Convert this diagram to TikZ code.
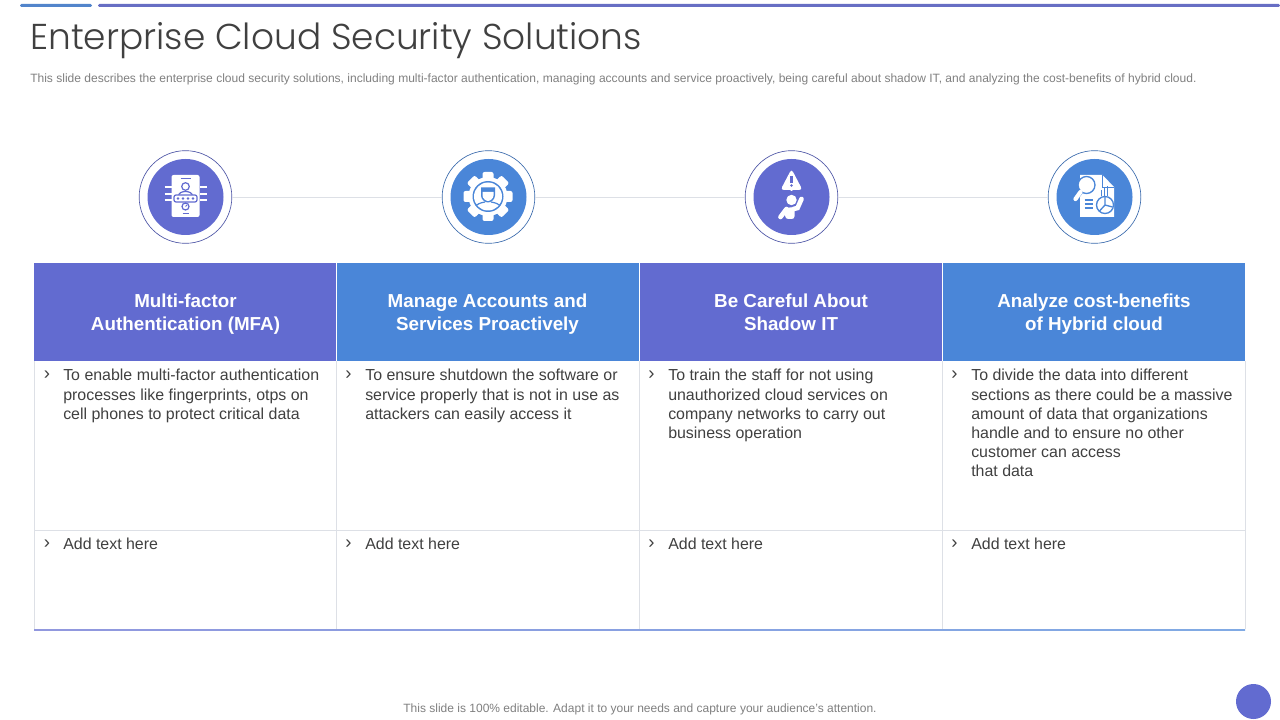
\documentclass[tikz,border=0pt]{standalone}
\usepackage{fontspec}
\setmainfont{Liberation Sans}
\newfontfamily\titlefont[UprightFont={* Light}]{Poppins}
\usepackage{xcolor}
\usetikzlibrary{positioning}
\definecolor{violetfill}{HTML}{626BD0}
\definecolor{bluefill}{HTML}{4A86D8}
\definecolor{gridline}{HTML}{DDE0E6}
\definecolor{bodytext}{HTML}{404040}
\definecolor{greytext}{HTML}{7F7F7F}
\tikzset{
  px/.style={x=0.75pt,y=-0.75pt},
  headcell/.style={minimum width=227.25pt,minimum height=73.5pt,inner sep=0pt},
  headtext/.style={inner sep=0pt,text=white,align=center,font=\fontsize{14.1}{17.2}\selectfont\bfseries},
  ringout/.style={circle,draw=#1!80!black,line width=0.5pt,fill=white,minimum size=69.5pt,inner sep=0pt},
  discin/.style={circle,fill=#1,minimum size=57pt,inner sep=0pt},
  bullet/.style={anchor=north west,inner sep=0pt,text=bodytext,font=\fontsize{14}{15}\selectfont},
  celltext/.style={anchor=north west,inner sep=0pt,text=bodytext,align=left,font=\fontsize{11.95}{14.4}\selectfont}
}
\begin{document}
\begin{tikzpicture}[px]
\useasboundingbox (0,0) rectangle (1280,720);
% top strip
\fill[bluefill!85!gray,rounded corners=1pt] (20,4) rectangle (92,7);
\fill[violetfill!85!gray,rounded corners=1pt] (98,4) rectangle (1280,7);
% title and note
\node[anchor=west,inner sep=0pt,text=bodytext,font=\fontsize{26.95}{32}\titlefont] (title) at (30,41) {Enterprise Cloud Security Solutions};
\node[anchor=west,inner sep=0pt,text=greytext,font=\fontsize{9.03}{11}\selectfont] (note) at (30,79) {This slide describes the enterprise cloud security solutions, including multi-factor authentication, managing accounts and service proactively, being careful about shadow IT, and analyzing the cost-benefits of hybrid cloud.};
% rings
\node[ringout=violetfill] (ringa) at (185.5,197) {};
\node[ringout=bluefill] (ringb) at (488.5,197) {};
\node[ringout=violetfill] (ringc) at (791.5,197) {};
\node[ringout=bluefill] (ringd) at (1094.5,197) {};
\draw[gridline] (ringa) -- (ringb);
\draw[gridline] (ringb) -- (ringc);
\draw[gridline] (ringc) -- (ringd);
\node[discin=violetfill] (disca) at (ringa.center) {};
\node[discin=bluefill] (discb) at (ringb.center) {};
\node[discin=violetfill] (discc) at (ringc.center) {};
\node[discin=bluefill] (discd) at (ringd.center) {};
% icon 1
\begin{scope}[shift={(185.5,197)}]
\fill[white,rounded corners=1.5pt] (-14,-22) rectangle (14,20);
\foreach \i in {-10,-3,3} {\draw[white,line width=1.4pt] (-21,\i) -- (-14,\i) (14,\i) -- (21,\i);}
\draw[violetfill,line width=0.9pt] (-5,-18.5) -- (5,-18.5) (-3,16.5) -- (3,16.5);
\draw[violetfill,line width=0.9pt] (0,-10.5) circle (3.8);
\draw[violetfill,line width=0.9pt] (-7,-1) .. controls (-7,-7) and (7,-7) .. (7,-1);
\draw[violetfill,line width=0.9pt,fill=white,rounded corners=1.5pt] (-11.5,-2) rectangle (11.5,5);
\foreach \i in {-7.5,-2.5,2.5,7.5} {\fill[violetfill] (\i,1.5) circle (1.4);}
\draw[violetfill,line width=0.9pt] (0,9.5) circle (3.5);
\draw[violetfill,line width=0.7pt] (0,9.5) -- (1.5,8);
\end{scope}
% icon 2
\begin{scope}[shift={(488,196.5)}]
\foreach \a in {0,45,...,315} {\fill[white,rotate=\a,rounded corners=1.5pt] (-5.5,-24.5) rectangle (5.5,-14);}
\fill[white] (0,0) circle (19.5);
\fill[bluefill] (0,0) circle (15.5);
\fill[white] (0,0) circle (14);
\fill[bluefill] (-7,-9) -- (7,-9) -- (7,-1) .. controls (7,3) and (3,6) .. (0,6) .. controls (-3,6) and (-7,3) .. (-7,-1) -- cycle;
\fill[white] (-5.5,-4.5) -- (5.5,-4.5) -- (5.5,-1) .. controls (5.5,2) and (2,4.5) .. (0,4.5) .. controls (-2,4.5) and (-5.5,2) .. (-5.5,-1) -- cycle;
\draw[bluefill,line width=0.9pt] (-12,9) .. controls (-8,6) and (-5,6) .. (-3,5.5) (12,9) .. controls (8,6) and (5,6) .. (3,5.5);
\end{scope}
% icon 3
\begin{scope}[shift={(791.5,197)}]
\fill[white,rounded corners=2.5pt] (0,-28) -- (11,-7) -- (-11,-7) -- cycle;
\fill[white] (-3,-8) -- (3,-8) -- (0,-6) -- cycle;
\fill[violetfill] (-1.2,-21) rectangle (1.2,-14);
\fill[violetfill] (0,-11.5) circle (1.4);
\fill[white] (0,3) circle (5.2);
\fill[white,rounded corners=2pt] (-7,11) -- (3,10) -- (3,22) -- (-6,22) -- cycle;
\draw[white,line width=3.5pt,line cap=round] (-11,20) -- (-5,12);
\draw[white,line width=3.5pt,line cap=round] (2,12) -- (6,11) -- (10,2);
\end{scope}
% icon 4
\begin{scope}[shift={(1094.5,197)}]
\fill[white] (-14.5,-22) -- (8,-22) -- (19.5,-10) -- (19.5,20) -- (-14.5,20) -- cycle;
\draw[bluefill,line width=0.7pt] (8,-22) -- (8,-10) -- (19.5,-10);
\draw[bluefill,line width=1pt,fill=white] (-8,-12) circle (8.5);
\draw[bluefill,line width=4.5pt] (-14,-6) -- (-18.5,0);
\draw[white,line width=3.2pt,line cap=round] (-14,-5) -- (-19,2);
\draw[bluefill,line width=0.9pt] (-10,3) -- (-2,3) (-10,7) -- (-2,7) (-10,11) -- (-2,11);
\draw[bluefill,line width=0.9pt] (7,-7) -- (7,-1) (10,-9) -- (10,-1) (13,-11) -- (13,-1);
\draw[bluefill,line width=1pt,fill=white] (10.5,8) circle (8.5);
\draw[bluefill,line width=1pt] (10.5,0) -- (10.5,8) -- (18,10) (10.5,8) -- (5,14);
\end{scope}
% header cells
\node[headcell,fill=violetfill] (heada) at (185.25,312) {};
\node[headcell,fill=bluefill] (headb) at (488,312) {};
\node[headcell,fill=violetfill] (headc) at (790.75,312) {};
\node[headcell,fill=bluefill] (headd) at (1093.5,312) {};
\node[headtext] (labela) at (185.5,314.5) {Multi-factor\\Authentication (MFA)};
\node[headtext] (labelb) at (487.5,314.5) {Manage Accounts and\\Services Proactively};
\node[headtext] (labelc) at (791,312.5) {Be Careful About\\Shadow IT};
\node[headtext] (labeld) at (1094,314.5) {Analyze cost-benefits\\of Hybrid cloud};
% grid
\coordinate (gbl) at (34,629);
\foreach \x in {34,336.5,639.5,942,1245} {\draw[gridline] (\x,361) -- (\x,629);}
\draw[gridline] (34,530.5) -- (1245,530.5);
\shade[left color=violetfill!70!white,right color=bluefill!70!white] (gbl) rectangle (1245,630);
\foreach \x in {336.5,639.5,942} {\draw[white,line width=0.5pt] (\x,263) -- (\x,361);}
% bullets
\foreach \x/\n in {43.5/a,345/b,648/c,951/d} {
  \node[bullet] (marktop\n) at (\x,371) {›};
  \node[bullet] (marklow\n) at (\x,540) {›};
}
\node[celltext] (texta) at (63,369) {To enable multi-factor authentication\\processes like fingerprints, otps on\\cell phones to protect critical data};
\node[celltext] (textb) at (365,369) {To ensure shutdown the software or\\service properly that is not in use as\\attackers can easily access it};
\node[celltext] (textc) at (668,369) {To train the staff for not using\\unauthorized cloud services on\\company networks to carry out\\business operation};
\node[celltext] (textd) at (971,369) {To divide the data into different\\sections as there could be a massive\\amount of data that organizations\\handle and to ensure no other\\customer can access\\that data};
\foreach \x/\n in {63/adda,365/addb,668/addc,971/addd} {
  \node[celltext] (\n) at (\x,538) {Add text here};
}
% footer
\node[inner sep=0pt,text=greytext,font=\fontsize{9}{11}\selectfont] (foot) at (640,709) {This slide is 100\% editable. Adapt it to your needs and capture your audience's attention.};
\node[circle,fill=violetfill,minimum size=26.25pt,inner sep=0pt] (pagedot) at (1253.5,701.5) {};
\end{tikzpicture}
\end{document}
